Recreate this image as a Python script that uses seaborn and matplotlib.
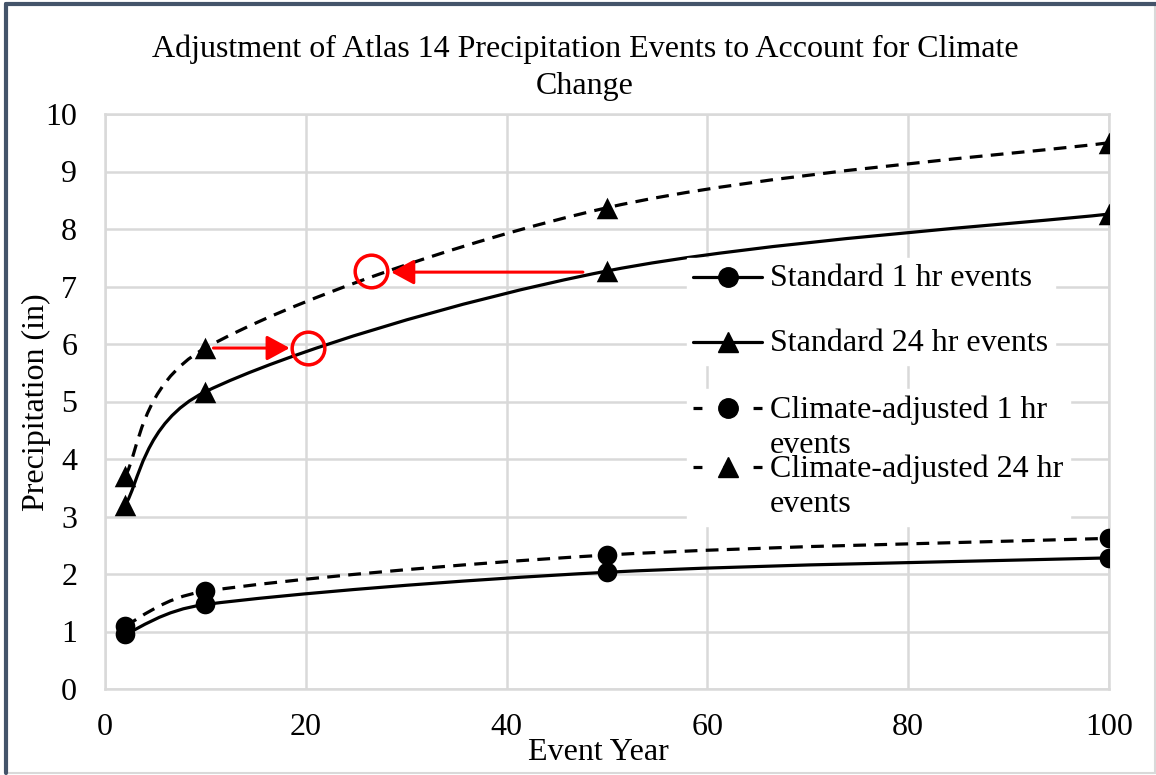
import numpy as np
import pandas as pd
import matplotlib
matplotlib.use("Agg")
import matplotlib.pyplot as plt
from matplotlib.path import Path
from matplotlib.patches import PathPatch, Rectangle
from matplotlib.lines import Line2D
import seaborn as sns

# ---- data ----
event_years = [2, 10, 50, 100]
std_1hr = [0.95, 1.47, 2.03, 2.28]
std_24hr = [3.20, 5.17, 7.27, 8.26]
adj_1hr = [1.10, 1.70, 2.33, 2.62]
adj_24hr = [3.70, 5.93, 8.37, 9.50]
series_names = ["Standard 1 hr events", "Standard 24 hr events",
                "Climate-adjusted 1 hr\nevents", "Climate-adjusted 24 hr\nevents"]
x_ticks = [0, 20, 40, 60, 80, 100]
y_ticks = list(range(0, 11))
# annotation: equivalent return periods
shift_a_from, shift_a_to, shift_a_y = 10, 20.2, 5.93
shift_b_from, shift_b_to, shift_b_y = 50, 26.5, 7.27

sns.set_theme(style="white")
plt.rcParams['font.family'] = ['Liberation Serif', 'DejaVu Serif']
plt.rcParams['text.color'] = 'black'
plt.rcParams['axes.labelcolor'] = 'black'

FS = 23
W, H = 1156, 775
fig = plt.figure(figsize=(W / 100, H / 100), dpi=100)
ax = fig.add_axes([105 / W, 1 - 689 / H, (1109 - 105) / W, (689 - 114) / H])
ax.set_xlim(0, 100)
ax.set_ylim(0, 10)

grid_c = "#d9d9d9"


def smooth_path(xs, ys):
    """Excel-like smoothed line: cubic Bezier segments built in screen space."""
    P = ax.transData.transform(np.column_stack([xs, ys]).astype(float))
    n = len(P)
    out_ctrl = [None] * n  # control point leaving point i
    in_ctrl = [None] * n   # control point entering point i
    for i in range(n):
        if 0 < i < n - 1:
            tan = (P[i + 1] - P[i - 1]) / 6.0
            tl = np.linalg.norm(tan)
            unit = tan / tl
            d_prev = np.linalg.norm(P[i] - P[i - 1])
            d_next = np.linalg.norm(P[i + 1] - P[i])
            in_ctrl[i] = P[i] - unit * min(tl, 0.5 * d_prev)
            out_ctrl[i] = P[i] + unit * min(tl, 0.5 * d_next)
    out_ctrl[0] = P[0] + (P[1] - P[0]) / 6.0
    in_ctrl[n - 1] = P[n - 1] - (P[n - 1] - P[n - 2]) / 6.0
    verts = [P[0]]
    codes = [Path.MOVETO]
    for i in range(n - 1):
        verts += [out_ctrl[i], in_ctrl[i + 1], P[i + 1]]
        codes += [Path.CURVE4] * 3
    verts = ax.transData.inverted().transform(np.array(verts))
    return Path(verts, codes)


dash_curve = (0, (4, 2.6))
series = [
    (std_1hr, "o", "-"),
    (std_24hr, "^", "-"),
    (adj_1hr, "o", dash_curve),
    (adj_24hr, "^", dash_curve),
]

for vals, mk, ls in series:
    patch = PathPatch(smooth_path(event_years, vals), facecolor="none",
                      edgecolor="black", lw=2.3, linestyle=ls, zorder=3)
    ax.add_patch(patch)
    df = pd.DataFrame({"x": event_years, "y": vals})
    sns.scatterplot(data=df, x="x", y="y", marker=mk, color="black",
                    s=240 if mk == "^" else 200, edgecolor="black",
                    linewidth=0, zorder=4, ax=ax, legend=False)

# red annotations
red = "#ff0000"
arrow_kw = dict(arrowstyle="-|>,head_length=0.7,head_width=0.38",
                color=red, lw=2.2, shrinkA=0, shrinkB=0, mutation_scale=20)
ax.annotate("", xy=(shift_a_to - 1.8, shift_a_y), xytext=(shift_a_from + 0.8, shift_a_y),
            arrowprops=arrow_kw, zorder=5)
ax.annotate("", xy=(shift_b_to + 2.0, shift_b_y - 0.02), xytext=(shift_b_from - 2.4, shift_b_y - 0.02),
            arrowprops=arrow_kw, zorder=5)
ax.plot([shift_a_to, shift_b_to], [shift_a_y, shift_b_y], "o", ms=23.5,
        mfc="none", mec=red, mew=2.5, zorder=5)

ax.set_xlim(0, 100)
ax.set_ylim(0, 10)
ax.set_xticks(x_ticks)
ax.set_yticks(y_ticks)
ax.grid(True, color=grid_c, lw=1.8)
for s in ax.spines.values():
    s.set_color(grid_c)
    s.set_linewidth(1.8)
ax.tick_params(axis="both", length=0, labelsize=FS, colors="black")
ax.tick_params(axis="y", pad=20)
ax.tick_params(axis="x", pad=17)
ax.set_xlabel("Event Year", fontsize=FS)
ax.set_ylabel("Precipitation (in)", fontsize=FS)
ax.xaxis.set_label_coords((598 - 105) / 1004, (689 - 752) / 575)
ax.xaxis.label.set_va("center")
ax.yaxis.set_label_coords((36 - 105) / 1004, (689 - 402) / 575)
ax.yaxis.label.set_va("center")

fig.text(0.506, 1 - 67.5 / H,
         "Adjustment of Atlas 14 Precipitation Events to Account for Climate\nChange",
         ha="center", va="center", fontsize=FS, linespacing=1.38)

solid_h = [
    Line2D([], [], color="black", lw=2.3, ls="-", marker="o", ms=14),
    Line2D([], [], color="black", lw=2.3, ls="-", marker="^", ms=15),
]
dash_leg = (0, (2.8, 6.6))
dashed_h = [
    Line2D([], [], color="black", lw=2.3, ls=dash_leg, marker="o", ms=14),
    Line2D([], [], color="black", lw=2.3, ls=dash_leg, marker="^", ms=15),
]
leg_kw = dict(loc="upper left", bbox_transform=fig.transFigure,
              frameon=True, fancybox=False, framealpha=1, edgecolor="white",
              facecolor="white", fontsize=FS, handlelength=2.15, handletextpad=0.25,
              handleheight=1.0, borderpad=0.2)


def top_align(leg):
    for col in leg._legend_handle_box.get_children():
        for item in col.get_children():
            item.align = "top"


leg1 = ax.legend(solid_h, series_names[:2], bbox_to_anchor=(671 / W, 1 - 242 / H),
                 labelspacing=1.12, **leg_kw)
top_align(leg1)
ax.add_artist(leg1)
leg2 = ax.legend(dashed_h, series_names[2:], bbox_to_anchor=(671 / W, 1 - 373 / H),
                 labelspacing=-0.19, **leg_kw)
top_align(leg2)
for t in leg2.get_texts():
    t.set_linespacing(1.3)

# outer border
fig.patches.append(Rectangle((6 / W, 2 / H), 1 - 7 / W, 1 - 6 / H, transform=fig.transFigure,
                             fill=False, edgecolor="#d9d9d9", lw=1.5))
fig.add_artist(Line2D([6 / W, 1], [1 - 4 / H, 1 - 4 / H], transform=fig.transFigure,
                      color="#44546a", lw=3))
fig.add_artist(Line2D([6 / W, 6 / W], [2 / H, 1 - 4 / H], transform=fig.transFigure,
                      color="#44546a", lw=3))

fig.savefig("out.png", dpi=100)
